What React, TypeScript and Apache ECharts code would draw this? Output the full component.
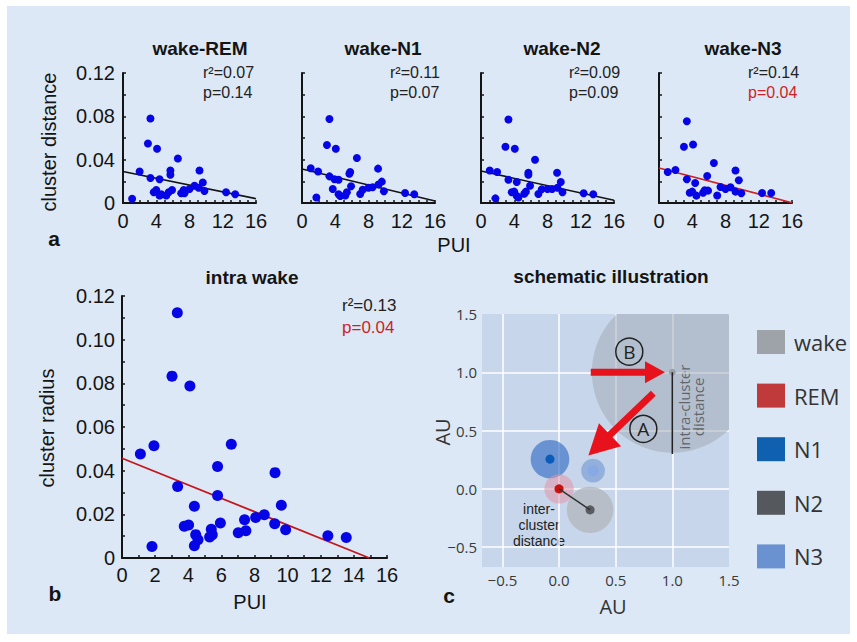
import React, { useEffect, useRef } from 'react';
import * as echarts from 'echarts';

// ---------- Panel a: wake vs. sleep stage cluster distance ----------
const remPUI = [1.1, 2.0, 3.3, 3.0, 4.1, 3.3, 4.4, 3.7, 4.0, 4.4, 4.6, 5.2, 5.5, 5.7, 5.7, 5.9, 6.6, 7.0, 7.3, 7.4, 8.0, 8.6, 9.2, 9.1, 9.6, 9.8, 12.4, 13.5];
const remDist = [0.004, 0.029, 0.078, 0.055, 0.050, 0.023, 0.022, 0.010, 0.012, 0.007, 0.008, 0.007, 0.010, 0.030, 0.026, 0.012, 0.041, 0.009, 0.012, 0.009, 0.013, 0.016, 0.030, 0.014, 0.019, 0.011, 0.010, 0.008];
const n1PUI = [1.05, 1.94, 1.73, 3.3, 3.0, 4.07, 3.3, 3.9, 4.4, 3.7, 4.4, 4.6, 5.2, 5.4, 5.7, 5.8, 5.9, 6.6, 7.0, 7.3, 8.0, 8.5, 9.15, 9.2, 9.6, 9.85, 12.4, 13.5];
const n1Dist = [0.032, 0.029, 0.005, 0.0775, 0.0535, 0.050, 0.0246, 0.022, 0.0215, 0.013, 0.008, 0.0065, 0.007, 0.010, 0.027, 0.0286, 0.0154, 0.0415, 0.0083, 0.0123, 0.014, 0.0145, 0.0317, 0.017, 0.0197, 0.0108, 0.0092, 0.008];
const n2PUI = [1.05, 1.94, 1.73, 3.3, 2.94, 4.07, 3.3, 4.3, 3.7, 4.3, 4.5, 5.2, 5.4, 5.7, 5.7, 5.9, 6.5, 6.9, 7.3, 8.0, 8.55, 9.15, 9.2, 9.6, 9.8, 12.35, 13.5, 4.0];
const n2Dist = [0.030, 0.0286, 0.0043, 0.077, 0.052, 0.050, 0.0215, 0.0194, 0.010, 0.0065, 0.005, 0.0086, 0.0105, 0.028, 0.026, 0.016, 0.040, 0.0083, 0.0126, 0.013, 0.013, 0.028, 0.014, 0.0194, 0.010, 0.009, 0.008, 0.0105];
const n3PUI = [1.05, 1.98, 3.35, 3.0, 4.1, 3.35, 4.35, 3.7, 4.0, 4.5, 5.3, 5.5, 5.9, 5.8, 6.6, 7.0, 7.4, 8.0, 8.6, 9.2, 9.2, 9.6, 9.9, 12.4, 13.5];
const n3Dist = [0.0286, 0.0305, 0.0754, 0.052, 0.054, 0.022, 0.0185, 0.0095, 0.0105, 0.0068, 0.0095, 0.0117, 0.0114, 0.025, 0.037, 0.007, 0.0148, 0.013, 0.0145, 0.030, 0.0105, 0.021, 0.009, 0.0092, 0.0092];

const remFit = [[0, 0.029], [16, 0.004]];
const n1Fit = [[0, 0.0314], [16, 0.0018]];
const n2Fit = [[0, 0.0295], [16, 0.0025]];
const n3Fit = [[0, 0.0323], [16, 0.0003]];

const topTitles = ['wake-REM', 'wake-N1', 'wake-N2', 'wake-N3'];
const topR2 = ['r²=0.07', 'r²=0.11', 'r²=0.09', 'r²=0.14'];
const topP = ['p=0.14', 'p=0.07', 'p=0.09', 'p=0.04'];
const topSignificant = [false, false, false, true];

// ---------- Panel b: intra wake cluster radius ----------
const intraPUI = [1.11, 1.93, 1.81, 3.34, 3.02, 4.10, 3.36, 3.76, 4.02, 4.37, 4.45, 4.37, 4.59, 5.29, 5.39, 5.45, 5.77, 5.77, 5.94, 6.60, 7.02, 7.48, 7.40, 8.07, 8.59, 9.24, 9.22, 9.62, 9.88, 12.43, 13.54];
const intraRadius = [0.0476, 0.0514, 0.0053, 0.1123, 0.0833, 0.0788, 0.0327, 0.0145, 0.0151, 0.0237, 0.0107, 0.0056, 0.0084, 0.0096, 0.0132, 0.0107, 0.0419, 0.0286, 0.0160, 0.0521, 0.0116, 0.0125, 0.0175, 0.0186, 0.0198, 0.0391, 0.0157, 0.0242, 0.0129, 0.0102, 0.0094];
const intraFit = [[0, 0.0457], [14.93, 0]];

// ---------- Panel c: schematic ----------
const clusterNames = ['wake', 'N1', 'N3', 'REM', 'N2'];
const clusterCenters = [[1, 1], [-0.08, 0.255], [0.30, 0.157], [0, 0], [0.274, -0.18]];
const clusterRadii = [0.71, 0.17, 0.105, 0.13, 0.205];
const clusterCoreRadii = [0.03, 0.04, 0.05, 0.04, 0.04];
const legendOrder = ['wake', 'REM', 'N1', 'N2', 'N3'];
const interLine = [[0, 0], [0.274, -0.18]];
const intraLine = [[1, 1], [1, 0.3]];
const arrowFrom = [[0.28, 1.0], [0.832, 0.82]];
const arrowTo = [[0.935, 1.0], [0.259, 0.286]];
const arrowLetters = [{ name: 'B', value: [0.62, 1.177] }, { name: 'A', value: [0.744, 0.514] }];
const interLabelLines = ['inter-', 'cluster', 'distance'];

const zip = (xs: number[], ys: number[]) => xs.map((x, i) => [x, ys[i]]);

const FONT = '"Liberation Sans", Arial, sans-serif';
const FONT_C = '"Open Sans", "Liberation Sans", sans-serif';
const INK = '#141414';
const RED = '#cf1f26';
const BLUE = '#0505e6';

const legendColors: Record<string, string> = { wake: '#9ea3aa', REM: '#c0393b', N1: '#1060b0', N2: '#55585d', N3: '#6a92d0' };
const haloColors: Record<string, string> = {
  wake: 'rgba(160,167,178,0.5)',
  N1: 'rgba(45,105,195,0.62)',
  N3: 'rgba(95,135,205,0.5)',
  REM: 'rgba(225,150,168,0.55)',
  N2: 'rgba(180,184,190,0.8)',
};
const coreColors: Record<string, string> = {
  wake: '#9aa0a8', N1: '#0a5cb8', N3: 'rgba(135,170,228,0.9)', REM: '#cc1111', N2: '#595c60',
};
const arrowStyle = [
  { shaft: 3.5, headLen: 20, headHalf: 11 },
  { shaft: 3.5, headLen: 30, headHalf: 16 },
];

const topLefts = [123, 302, 481, 659];
const titleCenters = [200, 383, 562, 743];
const statLefts = [203, 390, 569, 748];

function buildOption(): any {
  const grids: any[] = [];
  const xAxes: any[] = [];
  const yAxes: any[] = [];
  const series: any[] = [];
  const graphics: any[] = [];

  const axisBase = (show: boolean) => ({
    axisLine: { show: true, onZero: false, lineStyle: { color: INK, width: 2 } },
    axisTick: { show: true, inside: true, length: 3, lineStyle: { color: INK, width: 1.5 } },
    splitLine: { show: false },
    axisLabel: { show, color: INK, fontSize: 20, fontFamily: FONT },
  });

  const topData = [zip(remPUI, remDist), zip(n1PUI, n1Dist), zip(n2PUI, n2Dist), zip(n3PUI, n3Dist)];
  const topFits = [remFit, n1Fit, n2Fit, n3Fit];

  topLefts.forEach((left, i) => {
    grids.push({ left, top: 73, width: 133, height: 130 });
    const xb = axisBase(true);
    xAxes.push({
      ...xb, gridIndex: i, type: 'value', min: 0, max: 16, interval: 4,
      minorTick: { show: true, splitNumber: 4, length: 3, lineStyle: { color: INK, width: 1.5 } },
      axisLabel: { ...xb.axisLabel, margin: 8 },
    });
    const yb = axisBase(i === 0);
    yAxes.push({
      ...yb, gridIndex: i, type: 'value', min: 0, max: 0.12, interval: 0.04,
      minorTick: { show: true, splitNumber: 2, length: 3, lineStyle: { color: INK, width: 1.5 } },
      axisLabel: { ...yb.axisLabel, margin: 8, formatter: (v: number) => (v === 0 ? '0' : v.toFixed(2)) },
    });
    series.push({
      type: 'line', xAxisIndex: i, yAxisIndex: i, data: topFits[i], showSymbol: false, symbol: 'none',
      lineStyle: { color: topSignificant[i] ? RED : INK, width: 1.6 }, silent: true, z: 3,
    });
    series.push({
      type: 'scatter', xAxisIndex: i, yAxisIndex: i, data: topData[i], symbolSize: 8,
      itemStyle: { color: BLUE, opacity: 1 }, z: 4,
    });
    graphics.push({ type: 'text', x: titleCenters[i], y: 48, style: { text: topTitles[i], font: `bold 19px ${FONT}`, fill: INK, align: 'center', verticalAlign: 'middle' } });
    graphics.push({ type: 'text', x: statLefts[i], y: 72, style: { text: topR2[i], font: `16px ${FONT}`, fill: '#222', align: 'left', verticalAlign: 'middle' } });
    graphics.push({ type: 'text', x: statLefts[i], y: 92, style: { text: topP[i], font: `16px ${FONT}`, fill: topSignificant[i] ? RED : '#222', align: 'left', verticalAlign: 'middle' } });
  });

  // Panel b
  grids.push({ left: 122, top: 296, width: 265, height: 262 });
  const bx = axisBase(true);
  xAxes.push({
    ...bx, gridIndex: 4, type: 'value', min: 0, max: 16, interval: 2,
    minorTick: { show: true, splitNumber: 2, length: 3, lineStyle: { color: INK, width: 1.5 } },
    axisLabel: { ...bx.axisLabel, margin: 7 },
  });
  const by = axisBase(true);
  yAxes.push({
    ...by, gridIndex: 4, type: 'value', min: 0, max: 0.12, interval: 0.02,
    minorTick: { show: true, splitNumber: 2, length: 3, lineStyle: { color: INK, width: 1.5 } },
    axisLabel: { ...by.axisLabel, margin: 7, formatter: (v: number) => (v === 0 ? '0' : v.toFixed(2)) },
  });
  series.push({
    type: 'line', xAxisIndex: 4, yAxisIndex: 4, data: intraFit, showSymbol: false, symbol: 'none',
    lineStyle: { color: '#c4161c', width: 1.8 }, silent: true, z: 3,
  });
  series.push({
    type: 'scatter', xAxisIndex: 4, yAxisIndex: 4, data: zip(intraPUI, intraRadius), symbolSize: 11,
    itemStyle: { color: BLUE, opacity: 1 }, z: 4,
  });

  // Panel c
  grids.push({ left: 482, top: 314, width: 247, height: 253, show: true, backgroundColor: '#c7d6ea', borderWidth: 0 });
  const cFmt = (v: number) => (v < 0 ? '\u2212' + Math.abs(v).toFixed(1) : v.toFixed(1));
  const cAxis = {
    type: 'value', splitNumber: 4,
    axisLine: { show: false }, axisTick: { show: false },
    splitLine: { show: true, showMinLine: false, showMaxLine: false, lineStyle: { color: '#ffffff', width: 1.5 } },
    axisLabel: { show: true, color: '#3a3a3a', fontSize: 15, fontFamily: FONT_C, showMinLabel: false, formatter: cFmt },
  };
  xAxes.push({ ...cAxis, gridIndex: 5, min: -0.68, max: 1.5, axisLabel: { ...cAxis.axisLabel, margin: 5 } });
  yAxes.push({ ...cAxis, gridIndex: 5, min: -0.67, max: 1.5, axisLabel: { ...cAxis.axisLabel, margin: 5 } });

  clusterNames.forEach((name, k) => {
    series.push({
      type: 'custom', name, xAxisIndex: 5, yAxisIndex: 5, clip: true, silent: true,
      itemStyle: { color: legendColors[name] },
      data: [[clusterCenters[k][0], clusterCenters[k][1], clusterRadii[k], clusterCoreRadii[k]]],
      renderItem: (_p: any, api: any) => {
        const c = api.coord([api.value(0), api.value(1)]);
        const r = api.size([api.value(2), 0])[0];
        const rc = api.size([api.value(3), 0])[0];
        return {
          type: 'group',
          children: [
            { type: 'circle', shape: { cx: c[0], cy: c[1], r }, style: { fill: haloColors[name] } },
            { type: 'circle', shape: { cx: c[0], cy: c[1], r: rc }, style: { fill: coreColors[name] } },
          ],
        };
      },
      z: 2,
    });
  });

  series.push({
    type: 'line', xAxisIndex: 5, yAxisIndex: 5, data: interLine, symbol: 'none', showSymbol: false,
    lineStyle: { color: '#333', width: 1.5 }, silent: true, z: 3,
  });
  series.push({
    type: 'line', xAxisIndex: 5, yAxisIndex: 5, data: intraLine, symbol: 'none', showSymbol: false,
    lineStyle: { color: '#222', width: 1.6 }, silent: true, z: 3,
  });
  series.push({
    type: 'custom', xAxisIndex: 5, yAxisIndex: 5, silent: true, z: 5,
    data: arrowFrom.map((f, i) => [f[0], f[1], arrowTo[i][0], arrowTo[i][1]]),
    renderItem: (p: any, api: any) => {
      const a = api.coord([api.value(0), api.value(1)]);
      const b = api.coord([api.value(2), api.value(3)]);
      const st = arrowStyle[p.dataIndex];
      const dx = b[0] - a[0], dy = b[1] - a[1];
      const len = Math.sqrt(dx * dx + dy * dy);
      const ux = dx / len, uy = dy / len;
      const nx = -uy, ny = ux;
      const bx2 = b[0] - ux * st.headLen, by2 = b[1] - uy * st.headLen;
      const pts = [
        [a[0] + nx * st.shaft, a[1] + ny * st.shaft],
        [bx2 + nx * st.shaft, by2 + ny * st.shaft],
        [bx2 + nx * st.headHalf, by2 + ny * st.headHalf],
        [b[0], b[1]],
        [bx2 - nx * st.headHalf, by2 - ny * st.headHalf],
        [bx2 - nx * st.shaft, by2 - ny * st.shaft],
        [a[0] - nx * st.shaft, a[1] - ny * st.shaft],
      ];
      return { type: 'polygon', shape: { points: pts }, style: { fill: '#e8121c' } };
    },
  });
  series.push({
    type: 'scatter', xAxisIndex: 5, yAxisIndex: 5, data: arrowLetters, symbol: 'circle', symbolSize: 27,
    itemStyle: { color: 'rgba(0,0,0,0)', borderColor: '#222', borderWidth: 1.5, opacity: 1 }, silent: true, z: 6,
    label: { show: true, position: 'inside', formatter: '{b}', color: '#222', fontSize: 19, fontFamily: FONT_C },
  });

  // Static texts
  const txt = (x: number, y: number, text: string, font: string, extra: any = {}) => ({
    type: 'text', x, y, ...extra,
    style: { text, font, fill: extra.fill || INK, align: 'center', verticalAlign: 'middle', lineHeight: extra.lineHeight },
  });
  graphics.push(txt(49, 142, 'cluster distance', `20px ${FONT}`, { rotation: Math.PI / 2 }));
  graphics.push(txt(54, 238, 'a', `bold 21px ${FONT}`));
  graphics.push(txt(454, 245, 'PUI', `20px ${FONT}`));
  graphics.push(txt(252, 277, 'intra wake', `bold 19px ${FONT}`));
  graphics.push({ type: 'text', x: 342, y: 305, style: { text: 'r²=0.13', font: `17px ${FONT}`, fill: '#222', align: 'left', verticalAlign: 'middle' } });
  graphics.push({ type: 'text', x: 342, y: 327, style: { text: 'p=0.04', font: `17px ${FONT}`, fill: RED, align: 'left', verticalAlign: 'middle' } });
  graphics.push(txt(47, 428, 'cluster radius', `20px ${FONT}`, { rotation: Math.PI / 2 }));
  graphics.push(txt(250, 602, 'PUI', `20px ${FONT}`));
  graphics.push(txt(55, 593, 'b', `bold 21px ${FONT}`));
  graphics.push(txt(611, 276, 'schematic illustration', `bold 19px ${FONT}`));
  graphics.push(txt(613, 606, 'AU', `20px ${FONT_C}`, { fill: '#333' }));
  graphics.push(txt(442, 432, 'AU', `20px ${FONT_C}`, { rotation: Math.PI / 2, fill: '#333' }));
  graphics.push(txt(449, 595, 'c', `bold 21px ${FONT}`));
  graphics.push(txt(691, 407, 'intra-cluster\ndistance', `15px ${FONT_C}`, { rotation: Math.PI / 2, fill: '#222', lineHeight: 14 }));
  interLabelLines.forEach((line, i) => {
    graphics.push(txt(539, 509 + i * 16, line, `14px ${FONT}`, { fill: '#222' }));
  });

  // white frame around the figure
  graphics.push({ type: 'rect', shape: { x: 0, y: 0, width: 857, height: 6 }, style: { fill: '#ffffff' }, silent: true });
  graphics.push({ type: 'rect', shape: { x: 0, y: 0, width: 7, height: 642 }, style: { fill: '#ffffff' }, silent: true });
  graphics.push({ type: 'rect', shape: { x: 850, y: 0, width: 7, height: 642 }, style: { fill: '#ffffff' }, silent: true });
  graphics.push({ type: 'rect', shape: { x: 0, y: 634, width: 857, height: 8 }, style: { fill: '#ffffff' }, silent: true });

  return {
    animation: false,
    backgroundColor: '#dce8f5',
    textStyle: { fontFamily: FONT },
    grid: grids,
    xAxis: xAxes,
    yAxis: yAxes,
    series,
    legend: {
      data: legendOrder, orient: 'vertical', left: 752, top: 325, itemWidth: 28, itemHeight: 24,
      itemGap: 29.6, icon: 'rect', selectedMode: false,
      textStyle: { fontSize: 22, color: '#333', fontFamily: FONT_C, padding: [0, 0, 0, 4] },
    },
    graphic: { elements: graphics },
  };
}

export default function App() {
  const ref = useRef<HTMLDivElement>(null);
  useEffect(() => {
    if (!ref.current) return;
    const chart = echarts.init(ref.current, null, { renderer: 'svg' });
    chart.setOption(buildOption());
    return () => chart.dispose();
  }, []);
  return <div ref={ref} style={{ position: 'fixed', left: 0, top: 0, width: 857, height: 642 }} />;
}
